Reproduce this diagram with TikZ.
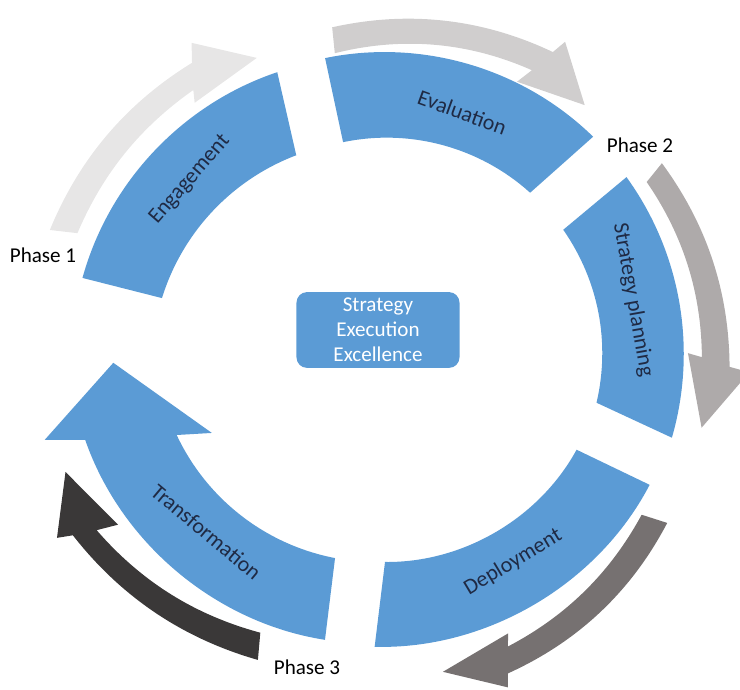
\documentclass[tikz,border=0pt]{standalone}
\usepackage{fontspec}
\setmainfont{Carlito}
\usetikzlibrary{positioning}
\definecolor{segblue}{HTML}{5B9BD5}
\definecolor{labelnavy}{HTML}{1F2A44}
\definecolor{greyA}{HTML}{E7E6E6}
\definecolor{greyB}{HTML}{D0CECE}
\definecolor{greyC}{HTML}{AEAAAA}
\definecolor{greyD}{HTML}{767171}
\definecolor{greyE}{HTML}{3A3838}

\begin{document}
\begin{tikzpicture}[x=.2mm,y=.2mm,
    seg/.style={fill=segblue,looseness=.9},
    turn/.style={looseness=.9},
    lbl/.style={text=labelnavy,font=\fontsize{12.5}{15}\selectfont},
    phase/.style={font=\fontsize{12}{14}\selectfont}]
    \useasboundingbox (-385,-340) rectangle (355,350);
    % blue ring
    \fill [seg] (166.9:229) to[bend left=26] (114.5:214) -- (111.2:298) to[bend right=28] (166.6:311) -- cycle;
    \fill [seg] (101.4:212) to[bend left=27] (47.3:214) -- (45.7:298) to[bend right=28] (101.6:298) -- cycle;
    \fill [seg] (34:215) to[bend left=24] (-14:218) -- (-17:300) to[bend right=26] (35.6:297) -- cycle;
    \fill [seg] (-27.5:216) to[bend left=31] (-90:212) -- (-92:297) to[bend right=32] (-27:297) -- cycle;
    \fill [seg] (256.5:214) to[bend left=27] (202.2:225) -- (205.6:192) -- (182.7:272)
        -- (194.8:352) -- (196.7:313) to[bend right=31] (258.3:296) -- cycle;
    % grey arrows
    \fill [turn,greyA] (159.2:329) to[bend left=16] (126.4:323) -- (127.6:312) -- (113.7:319)
        -- (122.2:363) -- (123.9:346) to[bend right=18] (160.3:356) -- cycle;
    \fill [turn,greyB] (99.6:301) to[bend left=19] (62.3:316) -- (63.8:299) -- (50.8:316)
        -- (59.7:357) -- (60.6:342) to[bend right=19] (99.3:327) -- cycle;
    \fill [turn,greyC] (32.7:311) to[bend left=17] (-1.3:317) -- (-0.6:303) -- (-13.8:326)
        -- (-3.5:365) -- (-2.8:345) to[bend right=18] (34:334) -- cycle;
    \fill [turn,greyD] (-32.7:305) to[bend left=17] (-67.5:321) -- (-66.5:309) -- (-79.8:327)
        -- (-70:359) -- (-69.2:346) to[bend right=19] (-31.5:331) -- cycle;
    \fill [turn,greyE] (246.2:309) to[bend left=17] (212:340) -- (213.2:319) -- (200.9:342)
        -- (209.8:378) -- (210.7:363) to[bend right=18] (247.7:335) -- cycle;
    % labels
    \node [lbl,rotate=49] (engage) at (138.9:259) {Engagement};
    \node [lbl,rotate=-20] (evalu) at (72:250) {Evaluation};
    \node [lbl,rotate=-80] (plan) at (11.4:253) {Strategy planning};
    \node [lbl,rotate=31] (deploy) at (-58.9:248) {Deployment};
    \node [lbl,rotate=-40] (transf) at (225.5:255) {Transformation};
    \node [phase] (ph1) at (-342,95) {Phase 1};
    \node [phase] (ph2) at (255,205) {Phase 2};
    \node [phase] (ph3) at (-78,-317) {Phase 3};
    \node [fill=segblue,rounded corners=6pt,minimum width=3.26cm,minimum height=1.46cm,
        text=white,align=center,font=\fontsize{12}{14.3}\selectfont] (core) at (-7,20)
        {Strategy\\Execution\\Excellence};
\end{tikzpicture}
\end{document}
